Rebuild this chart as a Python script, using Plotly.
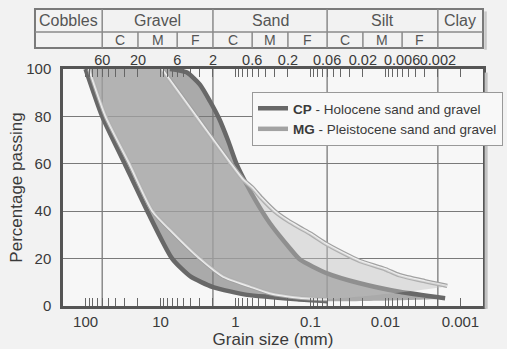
import numpy as np
import plotly.graph_objects as go

# ---------------- data ----------------
# grading envelope boundaries: grain size (mm) and percentage passing
cp_coarse_d = [100, 60, 30, 15, 7, 4, 2, 0.7, 0.35, 0.15, 0.06]
cp_coarse_p = [100, 80, 60, 40, 20, 12.5, 8, 4.7, 3.8, 2.8, 2.0]
cp_fine_d = [7.5, 4.5, 3.0, 2.2, 1.65, 1.25, 0.97, 0.73, 0.52, 0.35, 0.19, 0.138, 0.06, 0.022, 0.0065, 0.0016]
cp_fine_p = [100, 98.6, 93.5, 86.5, 79, 69.6, 60, 52, 43.6, 35, 24.5, 19.6, 13.8, 9.6, 6.0, 3.3]

mg_coarse_d = [90, 54, 26, 12.8, 6.8, 3.0, 1.47, 0.64, 0.35, 0.14, 0.06]
mg_coarse_p = [100, 80, 60, 40, 30.8, 20, 12.4, 8.2, 5.4, 3.5, 2.8]
mg_fine_d = [9.6, 3.0, 1.15, 0.8, 0.6, 0.45, 0.3, 0.2, 0.138, 0.1, 0.06, 0.03, 0.022, 0.01, 0.0065, 0.003, 0.0015]
mg_fine_p = [100, 78, 60, 53.5, 50, 45.5, 40, 36, 33, 30.5, 26, 21, 19, 15.5, 13, 10.5, 8.5]

cp_name = "<b>CP</b> - Holocene sand and gravel"
mg_name = "<b>MG</b> - Pleistocene sand and gravel"

# soil classification (header table)
main_bounds = [60, 2, 0.06, 0.002]
sub_bounds = [20, 6, 0.6, 0.2, 0.02, 0.006]
main_labels = ["Cobbles", "Gravel", "Sand", "Silt", "Clay"]
sub_labels = ["C", "M", "F"]

top_tick_vals = [60, 20, 6, 2, 0.6, 0.2, 0.06, 0.02, 0.006, 0.002]
top_tick_text = ["60", "20", "6", "2", "0.6", "0.2", "0.06", "0.02", "0.006", "0.002"]
bottom_tick_vals = [100, 10, 1, 0.1, 0.01, 0.001]
bottom_tick_text = ["100", "10", "1", "0.1", "0.01", "0.001"]
y_ticks = [0, 20, 40, 60, 80, 100]

x_min, x_max = 200, 0.0005
minor_vals = [m * 10.0 ** k for k in range(-3, 2) for m in range(1, 10)] + [100]

# ---------------- figure ----------------
FONT = "Liberation Sans, Arial, Helvetica, sans-serif"
TXT = "#3a3a3a"
xrange_log = [np.log10(x_min), np.log10(x_max)]

fig = go.Figure()

def poly(cd, cp, fd, fp):
    return list(cd) + list(fd[::-1]), list(cp) + list(fp[::-1])

mx, my = poly(mg_coarse_d, mg_coarse_p, mg_fine_d, mg_fine_p)
fig.add_trace(go.Scatter(x=mx, y=my, mode="lines", fill="toself", xaxis="x2",
                         fillcolor="rgba(190,190,190,0.45)", line=dict(width=0, shape="spline", smoothing=0.6),
                         showlegend=False, hoverinfo="skip"))
cx, cy = poly(cp_coarse_d, cp_coarse_p, cp_fine_d, cp_fine_p)
fig.add_trace(go.Scatter(x=cx, y=cy, mode="lines", fill="toself",
                         fillcolor="rgba(118,118,118,0.6)", line=dict(width=0, shape="spline", smoothing=0.6),
                         showlegend=False, hoverinfo="skip"))

# CP outlines
fig.add_trace(go.Scatter(x=cp_fine_d, y=cp_fine_p, mode="lines", name=cp_name,
                         line=dict(color="#686868", width=4.5, shape="spline", smoothing=0.6),
                         legendgroup="cp", showlegend=True))
fig.add_trace(go.Scatter(x=cp_coarse_d, y=cp_coarse_p, mode="lines", name=cp_name,
                         line=dict(color="#686868", width=4.5, shape="spline", smoothing=0.6),
                         legendgroup="cp", showlegend=False))
# MG outlines (grey edge + light core)
fig.add_trace(go.Scatter(x=mg_fine_d, y=mg_fine_p, mode="lines", name=mg_name,
                         line=dict(color="#a2a2a2", width=4.5, shape="spline", smoothing=0.6),
                         legendgroup="mg", showlegend=True))
fig.add_trace(go.Scatter(x=mg_coarse_d, y=mg_coarse_p, mode="lines", name=mg_name,
                         line=dict(color="#a2a2a2", width=4, shape="spline", smoothing=0.6),
                         legendgroup="mg", showlegend=False))
for d, p in [(mg_fine_d, mg_fine_p), (mg_coarse_d, mg_coarse_p)]:
    fig.add_trace(go.Scatter(x=d, y=p, mode="lines", name=mg_name,
                             line=dict(color="#f0f0f0", width=2, shape="spline", smoothing=0.6),
                             legendgroup="mg", showlegend=False, hoverinfo="skip"))

shapes = []
# vertical grid lines at class boundaries
for b in main_bounds:
    shapes.append(dict(type="line", xref="x", yref="paper", x0=b, x1=b, y0=0, y1=1,
                       line=dict(color="#7a7a7a", width=1.3), layer="below"))
# soft shadow of the plot frame (right / bottom)
shapes.append(dict(type="line", xref="paper", yref="paper", x0=1.0075, x1=1.0075, y0=-0.012, y1=0.985,
                   line=dict(color="#c2c2c2", width=3)))

# header table
tab_left = -0.0667
row_top, row_mid, row_bot = 1.253, 1.156, 1.089
tab_line = dict(color="#8a8a8a", width=1.5)
shapes.append(dict(type="line", xref="paper", yref="paper", x0=1.006, x1=1.006, y0=row_bot - 0.008, y1=row_top - 0.01,
                   line=dict(color="#c8c8c8", width=2.5)))
shapes.append(dict(type="rect", xref="paper", yref="paper", x0=tab_left, x1=1.0, y0=row_bot, y1=row_top,
                   line=dict(color="#7a7a7a", width=2)))
shapes.append(dict(type="line", xref="paper", yref="paper", x0=tab_left, x1=1.0, y0=row_mid, y1=row_mid,
                   line=tab_line))
for b in main_bounds:
    shapes.append(dict(type="line", xref="x", yref="paper", x0=b, x1=b, y0=row_bot, y1=row_top, line=tab_line))
for b in sub_bounds:
    shapes.append(dict(type="line", xref="x", yref="paper", x0=b, x1=b, y0=row_bot, y1=row_mid, line=tab_line))

annotations = []
# main class labels
lg = [np.log10(b) for b in main_bounds]
left_log = xrange_log[0] + (xrange_log[1] - xrange_log[0]) * tab_left
edges = [left_log] + lg + [xrange_log[1]]
for i, lab in enumerate(main_labels):
    annotations.append(dict(x=(edges[i] + edges[i + 1]) / 2, y=(row_mid + row_top) / 2, xref="x", yref="paper",
                            xanchor="center", yanchor="middle",
                            text=lab, showarrow=False, font=dict(size=16, color="#555555", family=FONT)))
# sub class labels (C / M / F) for gravel, sand, silt
for k in range(3):
    a = main_bounds[k]
    bnds = [a, sub_bounds[2 * k], sub_bounds[2 * k + 1], main_bounds[k + 1]]
    for j in range(3):
        cxl = (np.log10(bnds[j]) + np.log10(bnds[j + 1])) / 2
        annotations.append(dict(x=cxl, y=(row_bot + row_mid) / 2, xref="x", yref="paper",
                                xanchor="center", yanchor="middle",
                                text=sub_labels[j], showarrow=False,
                                font=dict(size=14, color="#555555", family=FONT)))

fig.update_layout(
    width=507, height=349,
    margin=dict(l=63, r=24, t=69, b=43, autoexpand=False),
    paper_bgcolor="#f2f2f2", plot_bgcolor="#f7f7f7",
    font=dict(family=FONT, color=TXT),
    shapes=shapes, annotations=annotations,
    xaxis=dict(type="log", range=xrange_log, tickmode="array", tickvals=bottom_tick_vals, ticktext=bottom_tick_text,
               ticks="inside", ticklen=8, tickcolor="#666666", tickwidth=1, tickangle=0,
               showgrid=False, zeroline=False, showline=True, linecolor="#555555", linewidth=2.5,
               mirror="allticks", tickfont=dict(size=15, color=TXT), automargin=False,
               minor=dict(tickmode="array", tickvals=minor_vals, ticks="inside", ticklen=8,
                          tickcolor="#666666", tickwidth=1, showgrid=False),
               title=dict(text="Grain size (mm)", font=dict(size=17, color=TXT), standoff=4)),
    xaxis2=dict(type="log", range=xrange_log, overlaying="x", side="top", anchor="y",
                tickmode="array", tickvals=top_tick_vals, ticktext=top_tick_text, automargin=False,
                ticks="", showgrid=False, zeroline=False, showline=False, tickangle=0,
                tickfont=dict(size=14.5, color=TXT)),
    yaxis=dict(range=[0, 100], tickmode="array", tickvals=y_ticks, ticks="", automargin=False,
               showgrid=True, gridcolor="#7a7a7a", gridwidth=1.3, zeroline=False,
               showline=True, linecolor="#555555", linewidth=2.5, mirror=True,
               tickfont=dict(size=15, color=TXT), ticklabelstandoff=6,
               title=dict(text="Percentage passing", font=dict(size=17, color=TXT), standoff=0)),
    legend=dict(x=0.45, y=0.903, xanchor="left", yanchor="top", bgcolor="#f8f8f8",
                bordercolor="#999999", borderwidth=1, font=dict(size=13.5, color=TXT, family=FONT),
                itemwidth=30, tracegroupgap=0),
    showlegend=True,
)

fig.write_html("out.html", config={"displayModeBar": False},
               post_script="document.body.style.margin='0px';")
